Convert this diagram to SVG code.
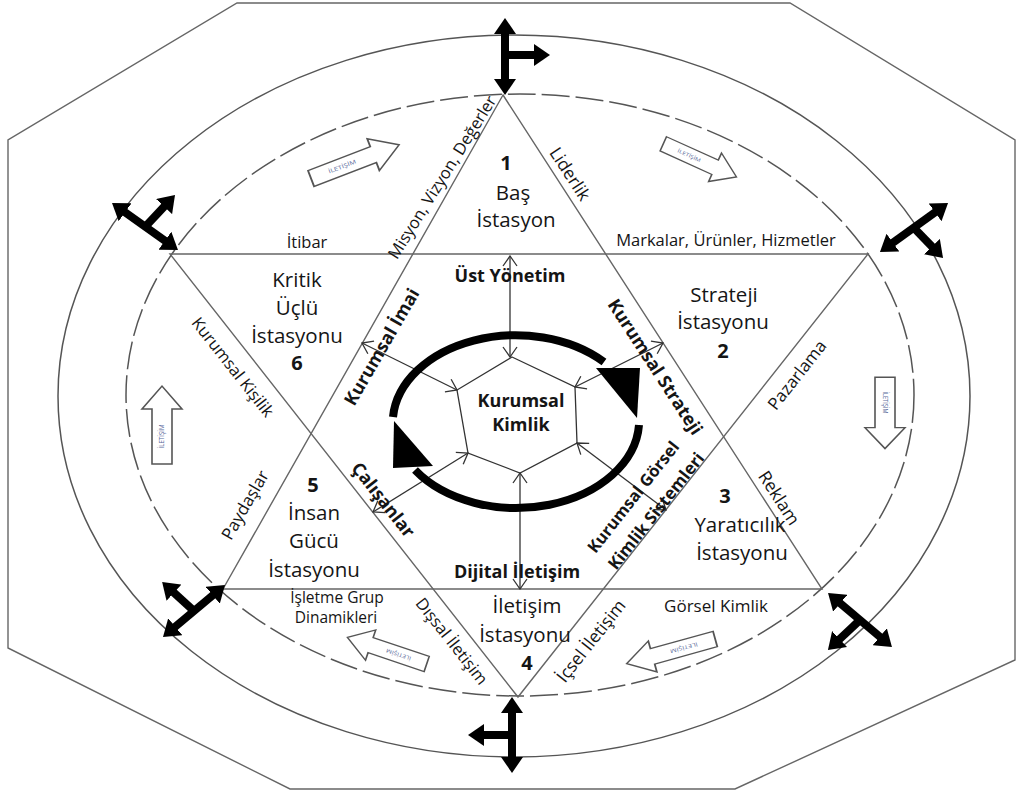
<svg xmlns="http://www.w3.org/2000/svg" xmlns:xlink="http://www.w3.org/1999/xlink" width="1024" height="794" viewBox="0 0 1024 794">
<style>
.ln{fill:none;stroke:#666;stroke-width:1.4}
.el{fill:none;stroke:#555;stroke-width:1.5}
.ds{fill:none;stroke:#555;stroke-width:1.5;stroke-dasharray:28 6}
.big{fill:none;stroke:#000;stroke-width:8;marker-end:url(#bh)}
.big2{fill:none;stroke:#000;stroke-width:8;marker-start:url(#bh);marker-end:url(#bh)}
.thin{fill:none;stroke:#333;stroke-width:1.3;marker-start:url(#vh);marker-end:url(#vh)}
.hex{fill:none;stroke:#333;stroke-width:1.3}
.circ{fill:none;stroke:#000;stroke-width:8}
.st{font-family:"Open Sans","Liberation Sans",sans-serif;font-size:20.5px;fill:#151515;text-anchor:middle}
.num{font-family:"Open Sans","Liberation Sans",sans-serif;font-size:20px;font-weight:bold;fill:#151515;text-anchor:middle}
.lb{font-family:"Open Sans","Liberation Sans",sans-serif;font-size:16.5px;fill:#151515;text-anchor:middle}
.bd{font-family:"Open Sans","Liberation Sans",sans-serif;font-size:18px;font-weight:bold;fill:#151515;text-anchor:middle}
.ha{fill:#fff;stroke:#555;stroke-width:1.6}
.ht{font-family:"Open Sans","Liberation Sans",sans-serif;font-size:6.5px;fill:#5a6a9a;text-anchor:middle}
</style>
<defs>
<marker id="bh" viewBox="0 0 16 22" refX="4" refY="11" markerWidth="16" markerHeight="22" markerUnits="userSpaceOnUse" orient="auto-start-reverse">
<path d="M0,0 L16,11 L0,22 Z" fill="#000"/>
</marker>
<marker id="vh" viewBox="0 0 12 16" refX="11" refY="8" markerWidth="12" markerHeight="16" markerUnits="userSpaceOnUse" orient="auto-start-reverse">
<path d="M1,1 L11,8 L1,15" fill="none" stroke="#333" stroke-width="1.3"/>
</marker>
<g id="harrow">
<path class="ha" d="M-40,-10 L18,-10 L18,-20 L42,0 L18,20 L18,10 L-40,10 Z"/>
<text class="ht" x="-11" y="2.3">İLETİŞİM</text>
</g>
</defs>
<rect width="1024" height="794" fill="#fff"/>
<g id="frame">
<polygon class="ln" points="237,3 790,3 1015,140 1015,660 735,789 290,789 8,648 8,140"/>
<ellipse class="el" cx="514" cy="396" rx="456" ry="361"/>
<ellipse class="ds" cx="520" cy="395" rx="394" ry="301"/>
</g>
<g id="hexagram">
<polygon class="ln" points="503,95 822,589 223,589"/>
<polygon class="ln" points="170,254 868,254 518,697"/>
</g>
<g id="connectors">
<line class="thin" x1="510" y1="256" x2="510" y2="357"/>
<line class="thin" x1="362" y1="343" x2="457" y2="390"/>
<line class="thin" x1="575" y1="387" x2="663" y2="343"/>
<line class="thin" x1="373" y1="512" x2="468" y2="453"/>
<line class="thin" x1="577" y1="443" x2="666" y2="510"/>
<line class="thin" x1="520" y1="473" x2="520" y2="589"/>
<polygon class="hex" points="512,357 575,387 577,443 520,473 468,453 457,390"/>
<path class="circ" d="M393,417 A123,88 0 0 1 604,362"/>
<polygon points="596,368 640,368 637,418" fill="#000"/>
<path class="circ" d="M639,425 A123,88 0 0 1 415,470"/>
<polygon points="394,421 393,468 433,466" fill="#000"/>
</g>
<g id="bigarrows">
<line class="big2" x1="505" y1="30" x2="505" y2="83"/>
<line class="big" x1="505" y1="55" x2="538" y2="55"/>
<line class="big2" x1="121.8" y1="210" x2="168.2" y2="243"/>
<line class="big" x1="145" y1="227" x2="166.8" y2="203.7"/>
<line class="big2" x1="889.7" y1="245" x2="938.3" y2="210"/>
<line class="big" x1="914" y1="228" x2="934.7" y2="249.4"/>
<line class="big2" x1="215.8" y1="592.7" x2="172.2" y2="629.3"/>
<line class="big" x1="194" y1="611" x2="171" y2="590"/>
<line class="big2" x1="512" y1="709" x2="512" y2="761"/>
<line class="big" x1="512" y1="735" x2="480" y2="735"/>
<line class="big2" x1="837.2" y1="600.7" x2="882.8" y2="639.3"/>
<line class="big" x1="860" y1="620" x2="836.7" y2="641.8"/>
</g>
<g id="iletisim-arrows">
<use xlink:href="#harrow" transform="translate(354,162) rotate(-21) scale(1.15,0.85)"/>
<use xlink:href="#harrow" transform="translate(699,160) rotate(24.4) scale(0.98,0.78)"/>
<use xlink:href="#harrow" transform="translate(885,412) rotate(90) scale(0.87,1.0)"/>
<use xlink:href="#harrow" transform="translate(162,426) rotate(-90) scale(0.95,1.0)"/>
<use xlink:href="#harrow" transform="translate(388,651) rotate(198.6) scale(1.02,0.8)"/>
<use xlink:href="#harrow" transform="translate(672,651) rotate(164.5) scale(1.12,0.8)"/>
</g>
<g id="station1">
<text class="num" x="506" y="170">1</text>
<text class="st" x="513" y="200">Baş</text>
<text class="st" x="516" y="227">İstasyon</text>
</g>
<g id="station2">
<text class="st" x="724" y="302">Strateji</text>
<text class="st" x="723" y="329">İstasyonu</text>
<text class="num" x="723" y="358">2</text>
</g>
<g id="station3">
<text class="num" x="725" y="503">3</text>
<text class="st" x="740" y="532">Yaratıcılık</text>
<text class="st" x="742" y="560">İstasyonu</text>
</g>
<g id="station4">
<text class="st" x="527" y="613">İletişim</text>
<text class="st" x="525" y="642">İstasyonu</text>
<text class="num" x="527" y="670">4</text>
</g>
<g id="station5">
<text class="num" x="313" y="492">5</text>
<text class="st" x="314" y="520">İnsan</text>
<text class="st" x="314" y="548">Gücü</text>
<text class="st" x="314" y="577">İstasyonu</text>
</g>
<g id="station6">
<text class="st" x="297" y="287">Kritik</text>
<text class="st" x="297" y="315">Üçlü</text>
<text class="st" x="297" y="343">İstasyonu</text>
<text class="num" x="297" y="370">6</text>
</g>
<g id="center">
<text class="bd" x="510" y="282">Üst Yönetim</text>
<text class="bd" x="521" y="407">Kurumsal</text>
<text class="bd" x="521" y="431">Kimlik</text>
<text class="bd" x="517" y="578">Dijital İletişim</text>
</g>
<g id="labels">
<text class="lb" x="307" y="248">İtibar</text>
<text class="lb" x="726" y="246">Markalar, Ürünler, Hizmetler</text>
<text class="lb" x="337" y="603" style="font-size:15.5px">İşletme Grup</text>
<text class="lb" x="336" y="623" style="font-size:15.5px">Dinamikleri</text>
<text class="lb" x="716" y="612" style="font-size:17px">Görsel Kimlik</text>
<text class="lb" transform="translate(442,177) rotate(-58)" y="6">Misyon, Vizyon, Değerler</text>
<text class="lb" transform="translate(570,174) rotate(57)" y="6" style="font-size:17.5px">Liderlik</text>
<text class="lb" transform="translate(233,367) rotate(51.8)" y="6">Kurumsal Kişilik</text>
<text class="lb" transform="translate(245,505) rotate(-60)" y="6" style="font-size:17px">Paydaşlar</text>
<text class="lb" transform="translate(797,375) rotate(-51.7)" y="6" style="font-size:17px">Pazarlama</text>
<text class="lb" transform="translate(779,498) rotate(57)" y="6" style="font-size:17.5px">Reklam</text>
<text class="lb" transform="translate(452,641) rotate(51.8)" y="6">Dışsal İletişim</text>
<text class="lb" transform="translate(591,641) rotate(-51.7)" y="6" style="font-size:17.5px">İçsel İletişim</text>
<text class="bd" transform="translate(382,347) rotate(-60)" y="6">Kurumsal İmai</text>
<text class="bd" transform="translate(655,367) rotate(57)" y="6">Kurumsal Strateji</text>
<text class="bd" transform="translate(383,500) rotate(51.8)" y="6">Çalışanlar</text>
<text class="bd" transform="translate(633,497) rotate(-51.7)" y="6" style="font-size:16.5px">Kurumsal Görsel</text>
<text class="bd" transform="translate(656,511) rotate(-51.7)" y="6" style="font-size:17px">Kimlik Sistemleri</text>
</g>
</svg>
